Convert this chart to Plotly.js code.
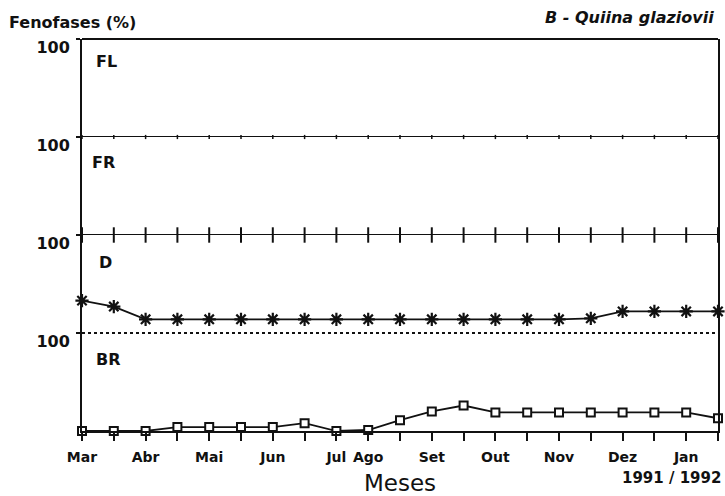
<!DOCTYPE html>
<html>
<head>
<meta charset="utf-8">
<script src="https://cdn.plot.ly/plotly-3.0.1.min.js"></script>
<style>html,body{margin:0;padding:0;background:#fff;}#chart{width:725px;height:496px;}</style>
</head>
<body>
<div id="chart"></div>
<script>
// Biweekly samples, Mar 1991 to Jan 1992 (21 samples)
var sampleIdx = [0,1,2,3,4,5,6,7,8,9,10,11,12,13,14,15,16,17,18,19,20];
var monthLabels = ["Mar","","Abr","","Mai","","Jun","","Jul","Ago","","Set","","Out","","Nov","","Dez","","Jan",""];
var flValues = [0,0,0,0,0,0,0,0,0,0,0,0,0,0,0,0,0,0,0,0,0];
var frValues = [0,0,0,0,0,0,0,0,0,0,0,0,0,0,0,0,0,0,0,0,0];
var dValues  = [33,27,14,14,14,14,14,14,14,14,14,14,14,14,14,14,15,22,22,22,22];
var brValues = [0,0,0,4,4,4,4,8,0,1,11,20,26,19,19,19,19,19,19,19,13];
var panelNames = ["FL","FR","D","BR"];
var yTickVals = [100];
var yTickText = ["100"];

var FONT = "DejaVu Sans";
var lineStyle = {color:"#111", width:1.8};

var traces = [
  {x:sampleIdx, y:flValues, yaxis:"y4", mode:"lines+markers", line:lineStyle,
   marker:{symbol:"line-ns", size:3, line:{color:"#111", width:1.5}}, cliponaxis:false, hoverinfo:"skip"},
  {x:sampleIdx, y:frValues, yaxis:"y3", mode:"lines+markers", line:lineStyle,
   marker:{symbol:"line-ns", size:11, line:{color:"#111", width:2}}, cliponaxis:false, hoverinfo:"skip"},
  {x:sampleIdx, y:dValues, yaxis:"y2", mode:"lines+markers", line:lineStyle,
   marker:{symbol:"asterisk", size:11, line:{color:"#111", width:2.2}}, cliponaxis:false, hoverinfo:"skip"},
  {x:sampleIdx, y:brValues, yaxis:"y", mode:"lines+markers", line:lineStyle,
   marker:{symbol:"square", size:8, color:"#fff", line:{color:"#111", width:2}}, cliponaxis:false, hoverinfo:"skip"}
];

function yAx(dom){
  return {domain:dom, range:[0,100], showgrid:false, zeroline:false,
    showline:true, mirror:true, linecolor:"#111", linewidth:2,
    tickmode:"array", tickvals:yTickVals, ticktext:yTickText,
    ticks:"outside", ticklen:4, tickwidth:2, tickcolor:"#111",
    ticklabelshift:8, ticklabelstandoff:3,
    tickfont:{family:FONT, size:16, color:"#111", weight:"bold"}, fixedrange:true};
}

function plabel(txt, px, py){
  return {text:txt, xref:"paper", yref:"paper", x:(px-82)/636, y:(431-py)/392,
    xanchor:"left", yanchor:"middle", showarrow:false,
    font:{family:FONT, size:16, color:"#111", weight:"bold"}};
}

var layout = {
  width:725, height:496,
  margin:{l:82, r:7, t:39, b:65},
  paper_bgcolor:"#fff", plot_bgcolor:"#fff",
  showlegend:false,
  xaxis:{anchor:"y", range:[0,20], showgrid:false, zeroline:false,
    showline:true, linecolor:"#111", linewidth:2,
    tickmode:"array", tickvals:sampleIdx, ticktext:monthLabels,
    ticks:"outside", ticklen:8, tickwidth:2, tickcolor:"#111",
    ticklabelstandoff:4,
    tickfont:{family:FONT, size:14, color:"#111", weight:"bold"},
    title:{text:"Meses", font:{family:FONT, size:23, color:"#111"}, standoff:11},
    fixedrange:true},
  yaxis: yAx([0,0.25]),
  yaxis2: yAx([0.25,0.5]),
  yaxis3: yAx([0.5,0.75]),
  yaxis4: yAx([0.75,1]),
  shapes:[
    {type:"line", xref:"paper", yref:"paper", x0:0, x1:1, y0:1, y1:1, line:{color:"#111", width:2}},
    {type:"line", xref:"paper", yref:"paper", x0:0, x1:1, y0:0.25, y1:0.25, line:{color:"#111", width:2, dash:"dot"}}
  ],
  annotations:[
    {text:"Fenofases (%)", xref:"paper", yref:"paper", x:(7-82)/636, y:(431-22)/392,
     xanchor:"left", yanchor:"middle", showarrow:false,
     font:{family:FONT, size:16, color:"#111", weight:"bold"}},
    {text:"<i>B - Quiina glaziovii</i>", xref:"paper", yref:"paper", x:(716-82)/636, y:(431-17)/392,
     xanchor:"right", yanchor:"middle", showarrow:false,
     font:{family:FONT, size:16, color:"#111", weight:"bold"}},
    {text:"1991 / 1992", xref:"paper", yref:"paper", x:(723-82)/636, y:(431-478)/392,
     xanchor:"right", yanchor:"middle", showarrow:false,
     font:{family:FONT, size:15, color:"#111", weight:"bold"}},
    plabel(panelNames[0], 94, 62),
    plabel(panelNames[1], 90, 162),
    plabel(panelNames[2], 97, 262),
    plabel(panelNames[3], 94, 359)
  ]
};

Plotly.newPlot("chart", traces, layout, {displayModeBar:false, staticPlot:true});
</script>
</body>
</html>
